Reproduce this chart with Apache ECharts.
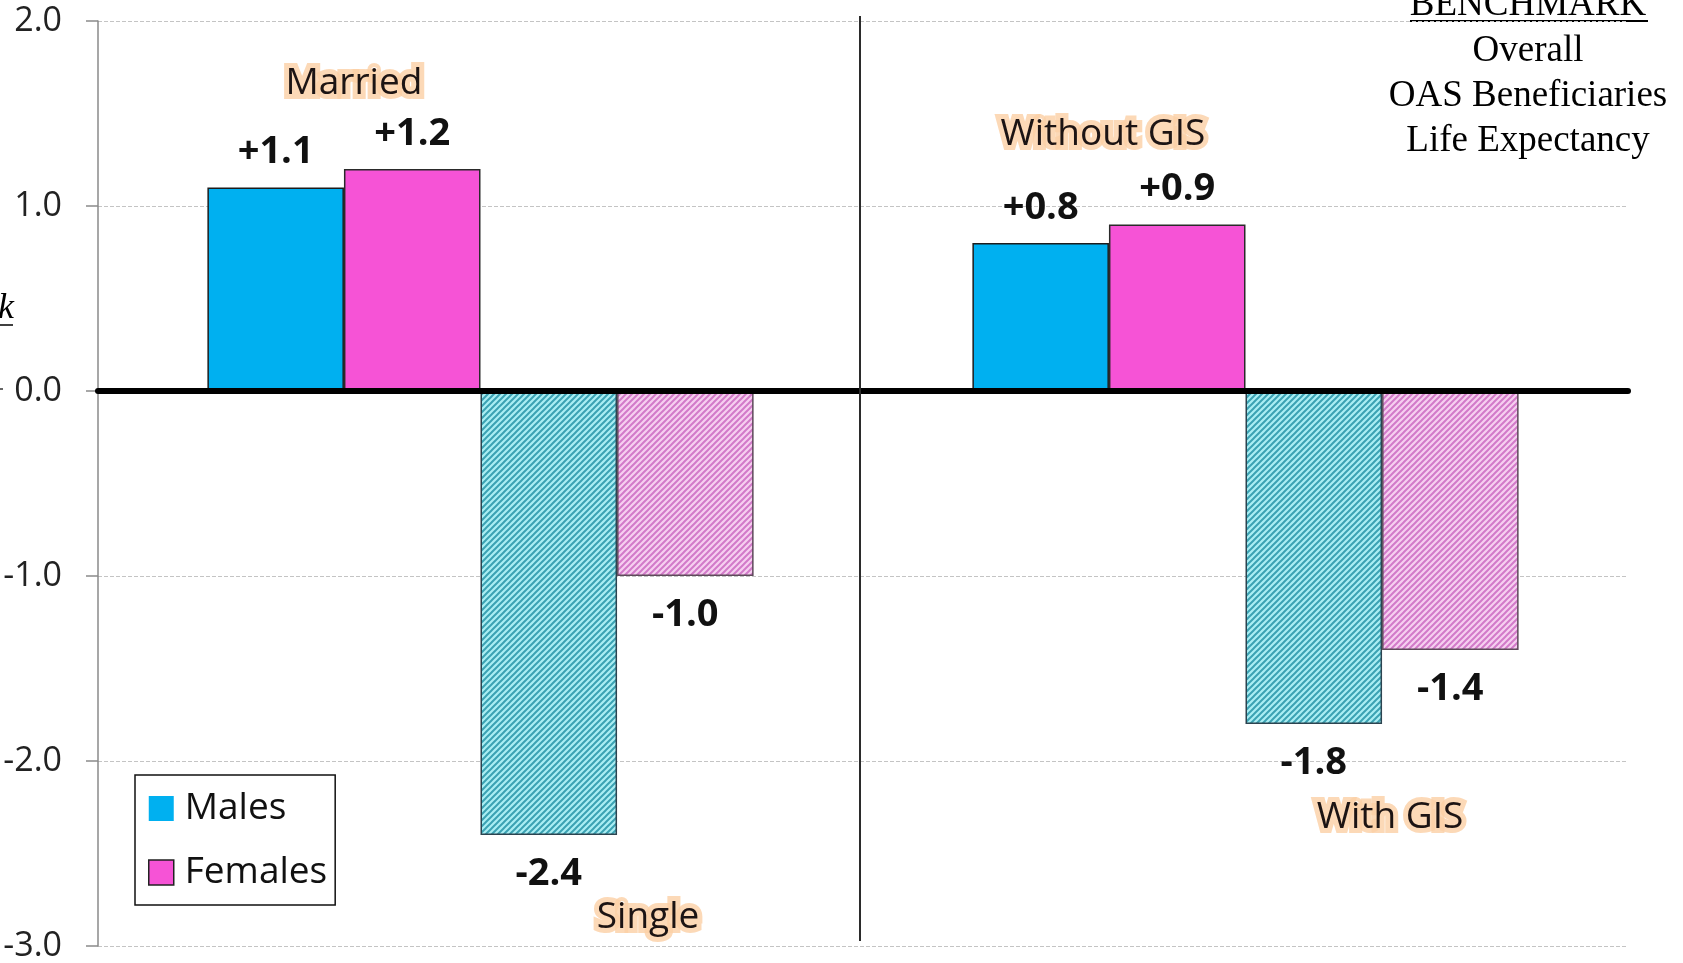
<!DOCTYPE html>
<html>
<head>
<meta charset="utf-8">
<script src="https://cdn.jsdelivr.net/npm/echarts@6/dist/echarts.min.js"></script>
<style>
  html, body { margin: 0; padding: 0; background: #ffffff; }
  #chart { width: 1683px; height: 963px; }
</style>
</head>
<body>
<div id="chart"></div>
<script>
// ---- data ----
const categories = ['Marital status', 'GIS status'];
const upperGroups = ['Married', 'Without GIS'];
const lowerGroups = ['Single', 'With GIS'];
const malesUpper = [1.1, 0.8];
const femalesUpper = [1.2, 0.9];
const malesLower = [-2.4, -1.8];
const femalesLower = [-1.0, -1.4];
const yMin = -3, yMax = 2, yStep = 1;
const benchmarkTitle = 'BENCHMARK';
const benchmarkLines = ['Overall', 'OAS Beneficiaries', 'Life Expectancy'];

// ---- styling ----
const SANS = '"Open Sans", "Noto Sans", sans-serif';
const SERIF = '"Liberation Serif", "DejaVu Serif", serif';
const MALE = '#00b0f0';
const FEMALE = '#f653d6';
const CATEGORY_GAP = 0.286;
// pixel nudges for the group captions relative to their bar pair
const captionNudge = {
  upper: [[10, -86], [-6, -90]],
  lower: [[31, 82], [8, 93]]
};

function hatch(bg, stripe) {
  const n = 6;
  const c = document.createElement('canvas');
  c.width = n; c.height = n;
  const ctx = c.getContext('2d');
  ctx.fillStyle = bg;
  ctx.fillRect(0, 0, n, n);
  ctx.strokeStyle = stripe;
  ctx.lineWidth = 2;
  ctx.beginPath();
  ctx.moveTo(-1, n + 1); ctx.lineTo(n + 1, -1);
  ctx.moveTo(-1, 1); ctx.lineTo(1, -1);
  ctx.moveTo(n - 1, n + 1); ctx.lineTo(n + 1, n - 1);
  ctx.stroke();
  return { image: c, repeat: 'repeat' };
}

const fmt = v => (v > 0 ? '+' : '') + v.toFixed(1);

const valueLabel = (pos, dist) => ({
  show: true,
  position: pos,
  distance: dist,
  formatter: p => fmt(p.value),
  fontFamily: SANS,
  fontWeight: 'bold',
  fontSize: 38,
  color: '#111'
});

// caption text with a soft peach halo: a blurred wide stroke under the glyphs
function glowText(text, x, y) {
  const base = {
    text: text,
    font: '37px ' + SANS,
    align: 'center',
    verticalAlign: 'middle'
  };
  return {
    type: 'group',
    children: [
      {
        type: 'text', x: x, y: y,
        style: Object.assign({}, base, {
          fill: 'rgba(251,208,165,0.8)',
          stroke: 'rgba(251,208,165,0.8)',
          lineWidth: 10,
          shadowColor: 'rgba(250,190,130,0.95)',
          shadowBlur: 12
        })
      },
      {
        type: 'text', x: x, y: y,
        style: Object.assign({}, base, { fill: '#1c1414' })
      }
    ]
  };
}

function renderCaptions(params, api) {
  const i = api.value(0);
  const center = api.coord([i, 0]);
  const band = api.size([1, 0])[0];
  const barW = band * (1 - CATEGORY_GAP) / 4;
  const upX = center[0] - barW;
  const downX = center[0] + barW;
  const upY = api.coord([i, Math.max(malesUpper[i], femalesUpper[i])])[1];
  const downY = api.coord([i, Math.min(malesLower[i], femalesLower[i])])[1];
  const children = [
    glowText(upperGroups[i], upX + captionNudge.upper[i][0], upY + captionNudge.upper[i][1]),
    glowText(lowerGroups[i], downX + captionNudge.lower[i][0], downY + captionNudge.lower[i][1])
  ];
  if (i > 0) {
    const cs = params.coordSys;
    const x = center[0] - band / 2 - 3;
    children.push({
      type: 'line',
      shape: { x1: x, y1: cs.y - 5, x2: x, y2: cs.y + cs.height - 5 },
      style: { stroke: '#2b2b2b', lineWidth: 2 }
    });
  }
  return { type: 'group', children: children };
}

const serifText = (text, x, y, extra) => ({
  type: 'text', x: x, y: y, silent: true,
  style: Object.assign({ text: text, font: '37px ' + SERIF, fill: '#000', align: 'center', verticalAlign: 'middle' }, extra || {})
});

const chart = echarts.init(document.getElementById('chart'), null, { renderer: 'canvas' });

chart.setOption({
  animation: false,
  backgroundColor: '#ffffff',
  grid: { left: 98, right: 55, top: 21, bottom: 17, containLabel: false },
  legend: {
    left: 135, top: 775,
    orient: 'vertical',
    backgroundColor: '#ffffff',
    borderColor: '#111',
    borderWidth: 1.5,
    padding: [15, 8, 14, 13],
    itemWidth: 25, itemHeight: 25, itemGap: 27,
    textStyle: { fontFamily: SANS, fontSize: 37, color: '#111', padding: [0, 0, 0, 6] },
    data: [
      { name: 'Males', icon: 'rect', itemStyle: { color: MALE, borderWidth: 0 } },
      { name: 'Females', icon: 'rect', itemStyle: { color: FEMALE, borderColor: '#222', borderWidth: 1.5 } }
    ]
  },
  xAxis: {
    type: 'category',
    data: categories,
    z: 4,
    axisLabel: { show: false },
    axisTick: { show: false },
    splitLine: { show: false },
    axisLine: { onZero: true, lineStyle: { color: '#000', width: 6 } }
  },
  yAxis: {
    type: 'value',
    min: yMin, max: yMax, interval: yStep,
    axisLine: { show: true, lineStyle: { color: '#8a8a8a', width: 1.5 } },
    axisTick: { show: true, length: 12, lineStyle: { color: '#8a8a8a', width: 1.5 } },
    axisLabel: {
      margin: 36,
      fontFamily: SANS, fontSize: 34, color: '#222',
      formatter: v => v.toFixed(1)
    },
    splitLine: { show: true, lineStyle: { color: '#c4c4c4', width: 1, type: [4, 2] } }
  },
  series: [
    {
      name: 'Males', type: 'bar', data: malesUpper,
      barGap: '0%', barCategoryGap: (CATEGORY_GAP * 100) + '%',
      itemStyle: { color: MALE, borderColor: '#1c1c1c', borderWidth: 1.5 },
      label: valueLabel('top', 16)
    },
    {
      name: 'Females', type: 'bar', data: femalesUpper,
      barGap: '0%', barCategoryGap: (CATEGORY_GAP * 100) + '%',
      itemStyle: { color: FEMALE, borderColor: '#2a2a2a', borderWidth: 1.5 },
      label: valueLabel('top', 16)
    },
    {
      name: 'Males', type: 'bar', data: malesLower,
      barGap: '0%', barCategoryGap: (CATEGORY_GAP * 100) + '%',
      itemStyle: { color: hatch('#aaeef3', '#3ba2b3'), borderColor: '#2c4450', borderWidth: 1.5 },
      label: valueLabel('bottom', 20)
    },
    {
      name: 'Females', type: 'bar', data: femalesLower,
      barGap: '0%', barCategoryGap: (CATEGORY_GAP * 100) + '%',
      itemStyle: { color: hatch('#f6cff0', '#d27ac9'), borderColor: '#5e4a5a', borderWidth: 1.5 },
      label: valueLabel('bottom', 20)
    },
    {
      type: 'custom',
      name: 'captions',
      silent: true,
      clip: false,
      z: 6,
      renderItem: renderCaptions,
      data: categories.map((c, i) => [i])
    }
  ],
  graphic: [
    serifText(benchmarkTitle, 1528, 5),
    {
      type: 'line', silent: true,
      shape: { x1: 1410, y1: 21, x2: 1648, y2: 21 },
      style: { stroke: '#000', lineWidth: 2 }
    }
  ].concat(benchmarkLines.map((t, k) => serifText(t, 1528, 51 + k * 45))).concat([
    serifText('Benchmark', 14, 309, { font: 'italic 36px ' + SERIF, align: 'right' }),
    {
      type: 'line', silent: true,
      shape: { x1: -240, y1: 325, x2: 13, y2: 325 },
      style: { stroke: '#000', lineWidth: 1.5 }
    },
    {
      type: 'line', silent: true,
      shape: { x1: -20, y1: 389, x2: 3, y2: 389 },
      style: { stroke: '#333', lineWidth: 1.5 }
    }
  ])
});
</script>
</body>
</html>
